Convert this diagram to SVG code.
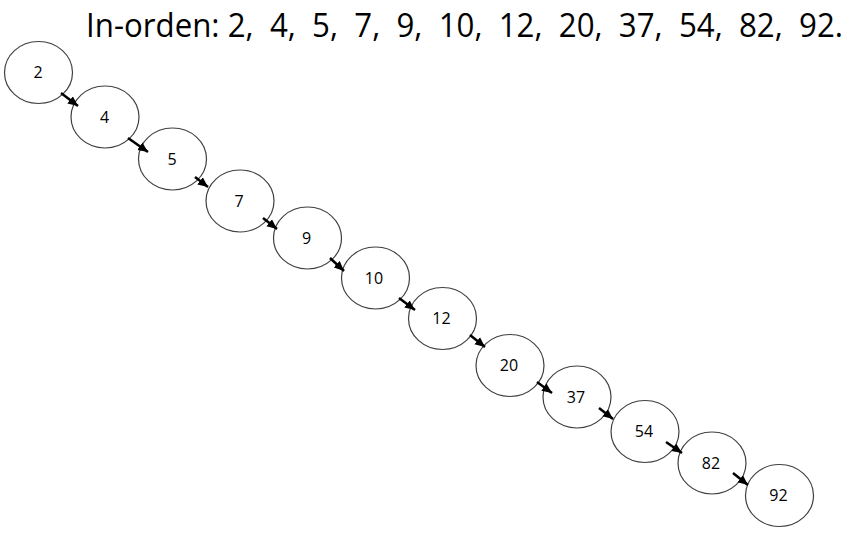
<svg xmlns="http://www.w3.org/2000/svg" width="850" height="540" viewBox="0 0 850 540">
<style>
.node ellipse{fill:#fff;stroke:#404040;stroke-width:1.2}
.node text{font-family:"Open Sans","Liberation Sans",sans-serif;font-size:16px;fill:#000;text-anchor:middle}
.title{font-family:"Open Sans","Liberation Sans",sans-serif;font-size:32px;fill:#000}
#edges line{stroke:#000;stroke-width:2.5;marker-end:url(#ah)}
</style>
<defs>
<marker id="ah" markerUnits="userSpaceOnUse" markerWidth="10" markerHeight="10" viewBox="0 0 10 10" refX="10" refY="5" orient="auto">
<path d="M0,0.5 L10,5 L0,9.5 Z" fill="#000"/>
</marker>
</defs>
<rect width="850" height="540" fill="#fff"/>
<text class="title" x="86" y="37" xml:space="preserve" textLength="757" lengthAdjust="spacingAndGlyphs">In-orden: 2,  4,  5,  7,  9,  10,  12,  20,  37,  54,  82,  92.</text>
<g id="n2" class="node"><ellipse cx="38.5" cy="72.5" rx="34" ry="31"/><text x="38" y="78">2</text></g>
<g id="n4" class="node"><ellipse cx="105" cy="117" rx="34" ry="31"/><text x="104.5" y="123">4</text></g>
<g id="n5" class="node"><ellipse cx="172.5" cy="159" rx="34" ry="31"/><text x="172" y="165">5</text></g>
<g id="n7" class="node"><ellipse cx="240" cy="201" rx="34" ry="31"/><text x="239" y="207">7</text></g>
<g id="n9" class="node"><ellipse cx="307.5" cy="238" rx="34" ry="31"/><text x="306.5" y="244">9</text></g>
<g id="n10" class="node"><ellipse cx="375.5" cy="278" rx="34" ry="31"/><text x="374" y="284">10</text></g>
<g id="n12" class="node"><ellipse cx="442.5" cy="318.5" rx="34" ry="31"/><text x="441.5" y="324">12</text></g>
<g id="n20" class="node"><ellipse cx="510" cy="365.5" rx="34" ry="31"/><text x="509" y="371">20</text></g>
<g id="n37" class="node"><ellipse cx="577" cy="397" rx="34" ry="31"/><text x="576" y="403">37</text></g>
<g id="n54" class="node"><ellipse cx="645" cy="431.5" rx="34" ry="31"/><text x="644" y="437">54</text></g>
<g id="n82" class="node"><ellipse cx="712" cy="463" rx="34" ry="31"/><text x="711" y="469">82</text></g>
<g id="n92" class="node"><ellipse cx="779.5" cy="495.5" rx="34" ry="31"/><text x="778.5" y="501">92</text></g>
<g id="edges">
<line x1="61" y1="93" x2="78" y2="106"/>
<line x1="128" y1="138" x2="148" y2="152"/>
<line x1="195" y1="177" x2="208" y2="187"/>
<line x1="263" y1="218" x2="277" y2="229"/>
<line x1="330" y1="258" x2="344" y2="271"/>
<line x1="399" y1="298" x2="415" y2="310"/>
<line x1="470" y1="335" x2="485" y2="347"/>
<line x1="537" y1="382" x2="552" y2="393"/>
<line x1="599" y1="408" x2="613" y2="419"/>
<line x1="666" y1="442" x2="682" y2="453"/>
<line x1="733" y1="473" x2="748" y2="485"/>
</g>
</svg>
